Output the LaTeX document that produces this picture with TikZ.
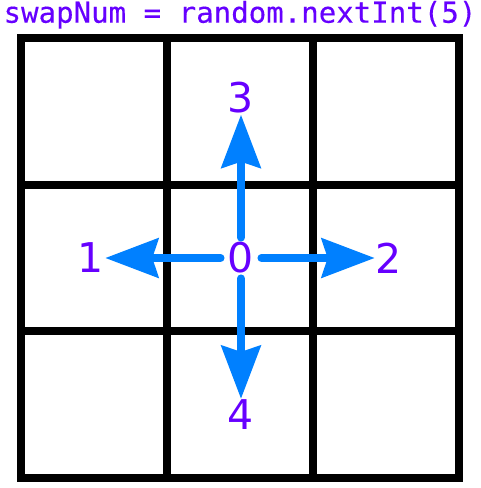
\documentclass[tikz,border=0pt]{standalone}
\usepackage{fontspec}
\usepackage{xcolor}
\usepackage{tikz}
\usetikzlibrary{arrows.meta}
\newfontfamily\codefont[FakeStretch=1.01, FakeBold=0.3]{DejaVu Sans Mono}
\newfontfamily\digitfont{DejaVu Sans}
\definecolor{swappurple}{RGB}{102,0,255}
\definecolor{swapblue}{RGB}{0,128,255}
\tikzstyle{gridline} = [line width=8pt, black, line join=miter]
\tikzstyle{digit} = [text=swappurple, font=\digitfont\fontsize{41}{41}\selectfont, inner sep=1pt]
\tikzstyle{arrow} = [line width=8pt, swapblue, line cap=round, -{Stealth[length=53pt, width=39pt, inset=6pt]}]

\begin{document}
\begin{tikzpicture}[x=1pt, y=-1pt, node distance=150pt]
\useasboundingbox (0,0) rectangle (480,488);

% Title
\node (title) [anchor=base, text=swappurple, font=\codefont\fontsize{28.8}{28.8}\selectfont, inner sep=0] at (240,22.7) {swapNum = random.nextInt(5)};

% Grid
\draw [gridline] (20.5,38) rectangle (458.5,477.5);
\foreach \i in {1,2} {
  \draw [gridline] (20.5+146*\i,38) -- (20.5+146*\i,477.5);
  \draw [gridline] (20.5,38+146.5*\i) -- (458.5,38+146.5*\i);
}

% Centre and neighbours
\node (zero) [digit, circle, minimum size=40pt, inner sep=0] at (241,258) {0};
\node (one) [digit, left of=zero] {1};
\node (two) [digit, right of=zero, xshift=-2pt] {2};
\node (three) [digit, above of=zero, yshift=10pt] {3};
\node (four) [digit, below of=zero, yshift=-7pt] {4};

% Drawing arrows
\draw [arrow] (zero) -- (one);
\draw [arrow] (zero) -- (two);
\draw [arrow] (zero) -- (three);
\draw [arrow] (zero) -- (four);

\end{tikzpicture}
\end{document}
